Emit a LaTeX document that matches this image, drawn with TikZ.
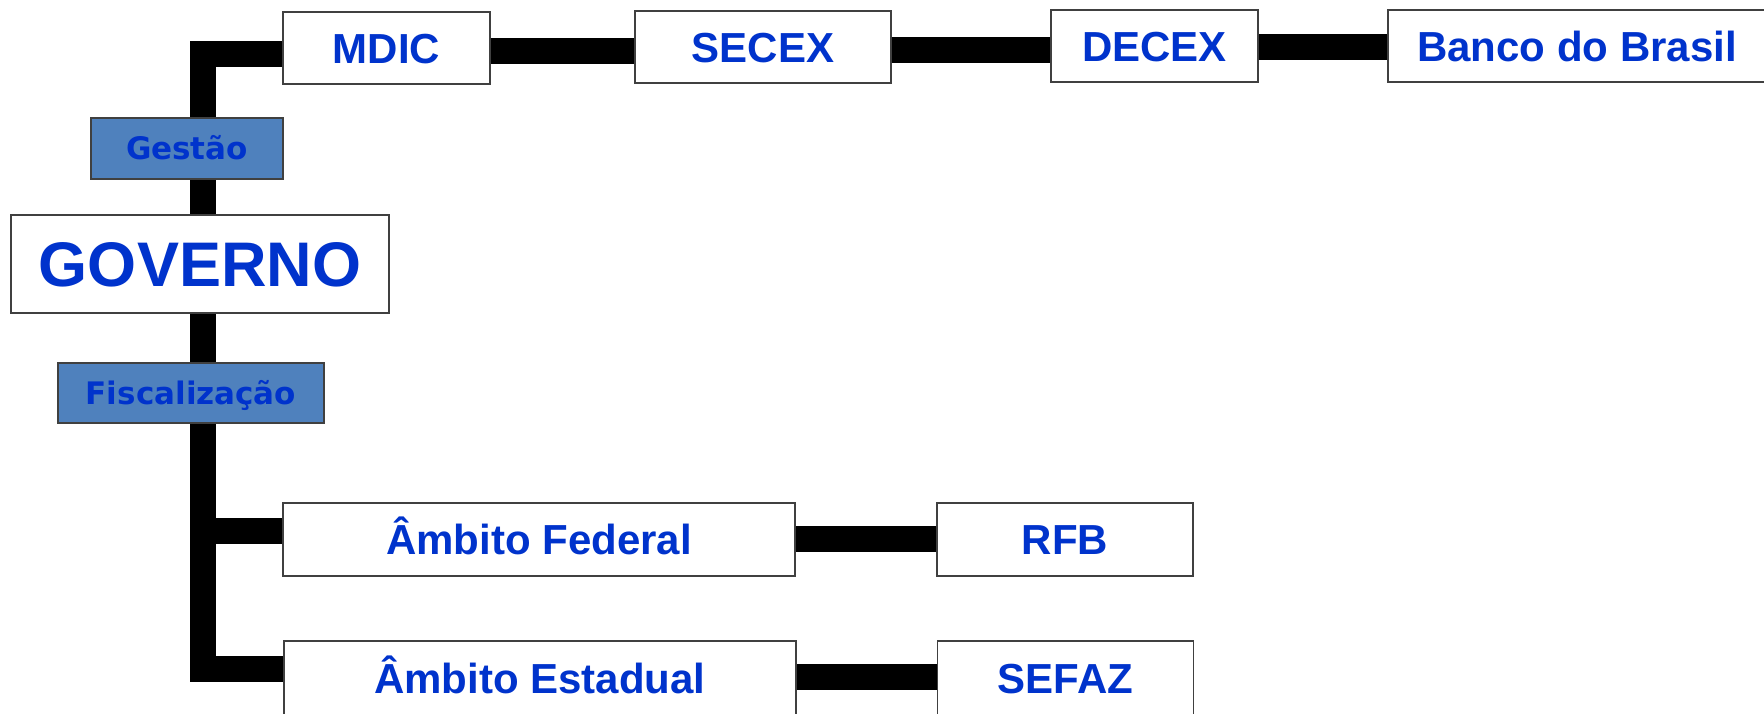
\documentclass[tikz,border=0pt]{standalone}
\usepackage{fontspec}
\setmainfont{Liberation Sans}
\newfontfamily\labelfont{DejaVu Sans}
\usetikzlibrary{backgrounds}
\definecolor{txtblue}{HTML}{0033CC}
\definecolor{boxline}{HTML}{404040}
\definecolor{tagfill}{HTML}{4F81BD}
\begin{document}
\begin{tikzpicture}[x=1pt,y=-1pt,
  box/.style={draw=boxline, line width=1.5pt, fill=white, inner sep=0pt,
    text=txtblue, font=\fontsize{42}{50}\selectfont\bfseries,
    text height=30pt, text depth=0pt},
  bigbox/.style={box, font=\fontsize{63}{72}\selectfont\bfseries, text height=45pt},
  tagbox/.style={draw=boxline, line width=1.5pt, fill=tagfill, inner sep=0pt,
    text=txtblue, font=\labelfont\fontsize{31}{36}\selectfont\bfseries,
    text height=22.6pt, text depth=0pt},
  conn/.style={line width=26pt, black, line join=miter}]
\useasboundingbox (0,0) rectangle (1764,713);
\clip (0,0) rectangle (1764,713);
% top row
\node[box, minimum width=207pt, minimum height=72pt] (mdic) at (386.5,48) {MDIC};
\node[box, minimum width=256pt, minimum height=72pt] (secex) at (763,47) {SECEX};
\node[box, minimum width=207pt, minimum height=72pt] (decex) at (1154.5,46) {DECEX};
\node[box, minimum width=378pt, minimum height=72pt] (banco) at (1577,46) {Banco do Brasil};
% left column
\node[tagbox, minimum width=192pt, minimum height=61pt] (gestao) at (187,148.5) {Gestão};
\node[bigbox, minimum width=378pt, minimum height=98pt] (governo) at (200,264) {GOVERNO};
\node[tagbox, minimum width=266pt, minimum height=60pt] (fisc) at (191,393) {Fiscalização};
% bottom rows
\node[box, minimum width=512pt, minimum height=73pt] (federal) at (539,539.5) {Âmbito Federal};
\node[box, minimum width=256pt, minimum height=73pt] (rfb) at (1065,539.5) {RFB};
\node[box, minimum width=512pt, minimum height=75pt] (estadual) at (540,678.5) {Âmbito Estadual};
\node[box, minimum width=256pt, minimum height=75pt] (sefaz) at (1065.5,678.5) {SEFAZ};
% connectors
\coordinate (s1) at (203,54);
\coordinate (s2) at (203,530.5);
\coordinate (s3) at (203,669);
\coordinate (h1) at (0,50.5);
\coordinate (h2) at (0,49.5);
\coordinate (h3) at (0,47);
\coordinate (h4) at (0,539);
\coordinate (h5) at (0,676.5);
\begin{scope}[on background layer]
\fill[white] (0,0) rectangle (1764,713);
\draw[conn] (s1 -| mdic.west) -- (s1) -- (s3) -- (s3 -| estadual.west);
\draw[conn] (s2) -- (s2 -| federal.west);
\draw[conn] (h1 -| mdic.east) -- (h1 -| secex.west);
\draw[conn] (h2 -| secex.east) -- (h2 -| decex.west);
\draw[conn] (h3 -| decex.east) -- (h3 -| banco.west);
\draw[conn] (h4 -| federal.east) -- (h4 -| rfb.west);
\draw[conn] (h5 -| estadual.east) -- (h5 -| sefaz.west);
\end{scope}
\end{tikzpicture}
\end{document}
